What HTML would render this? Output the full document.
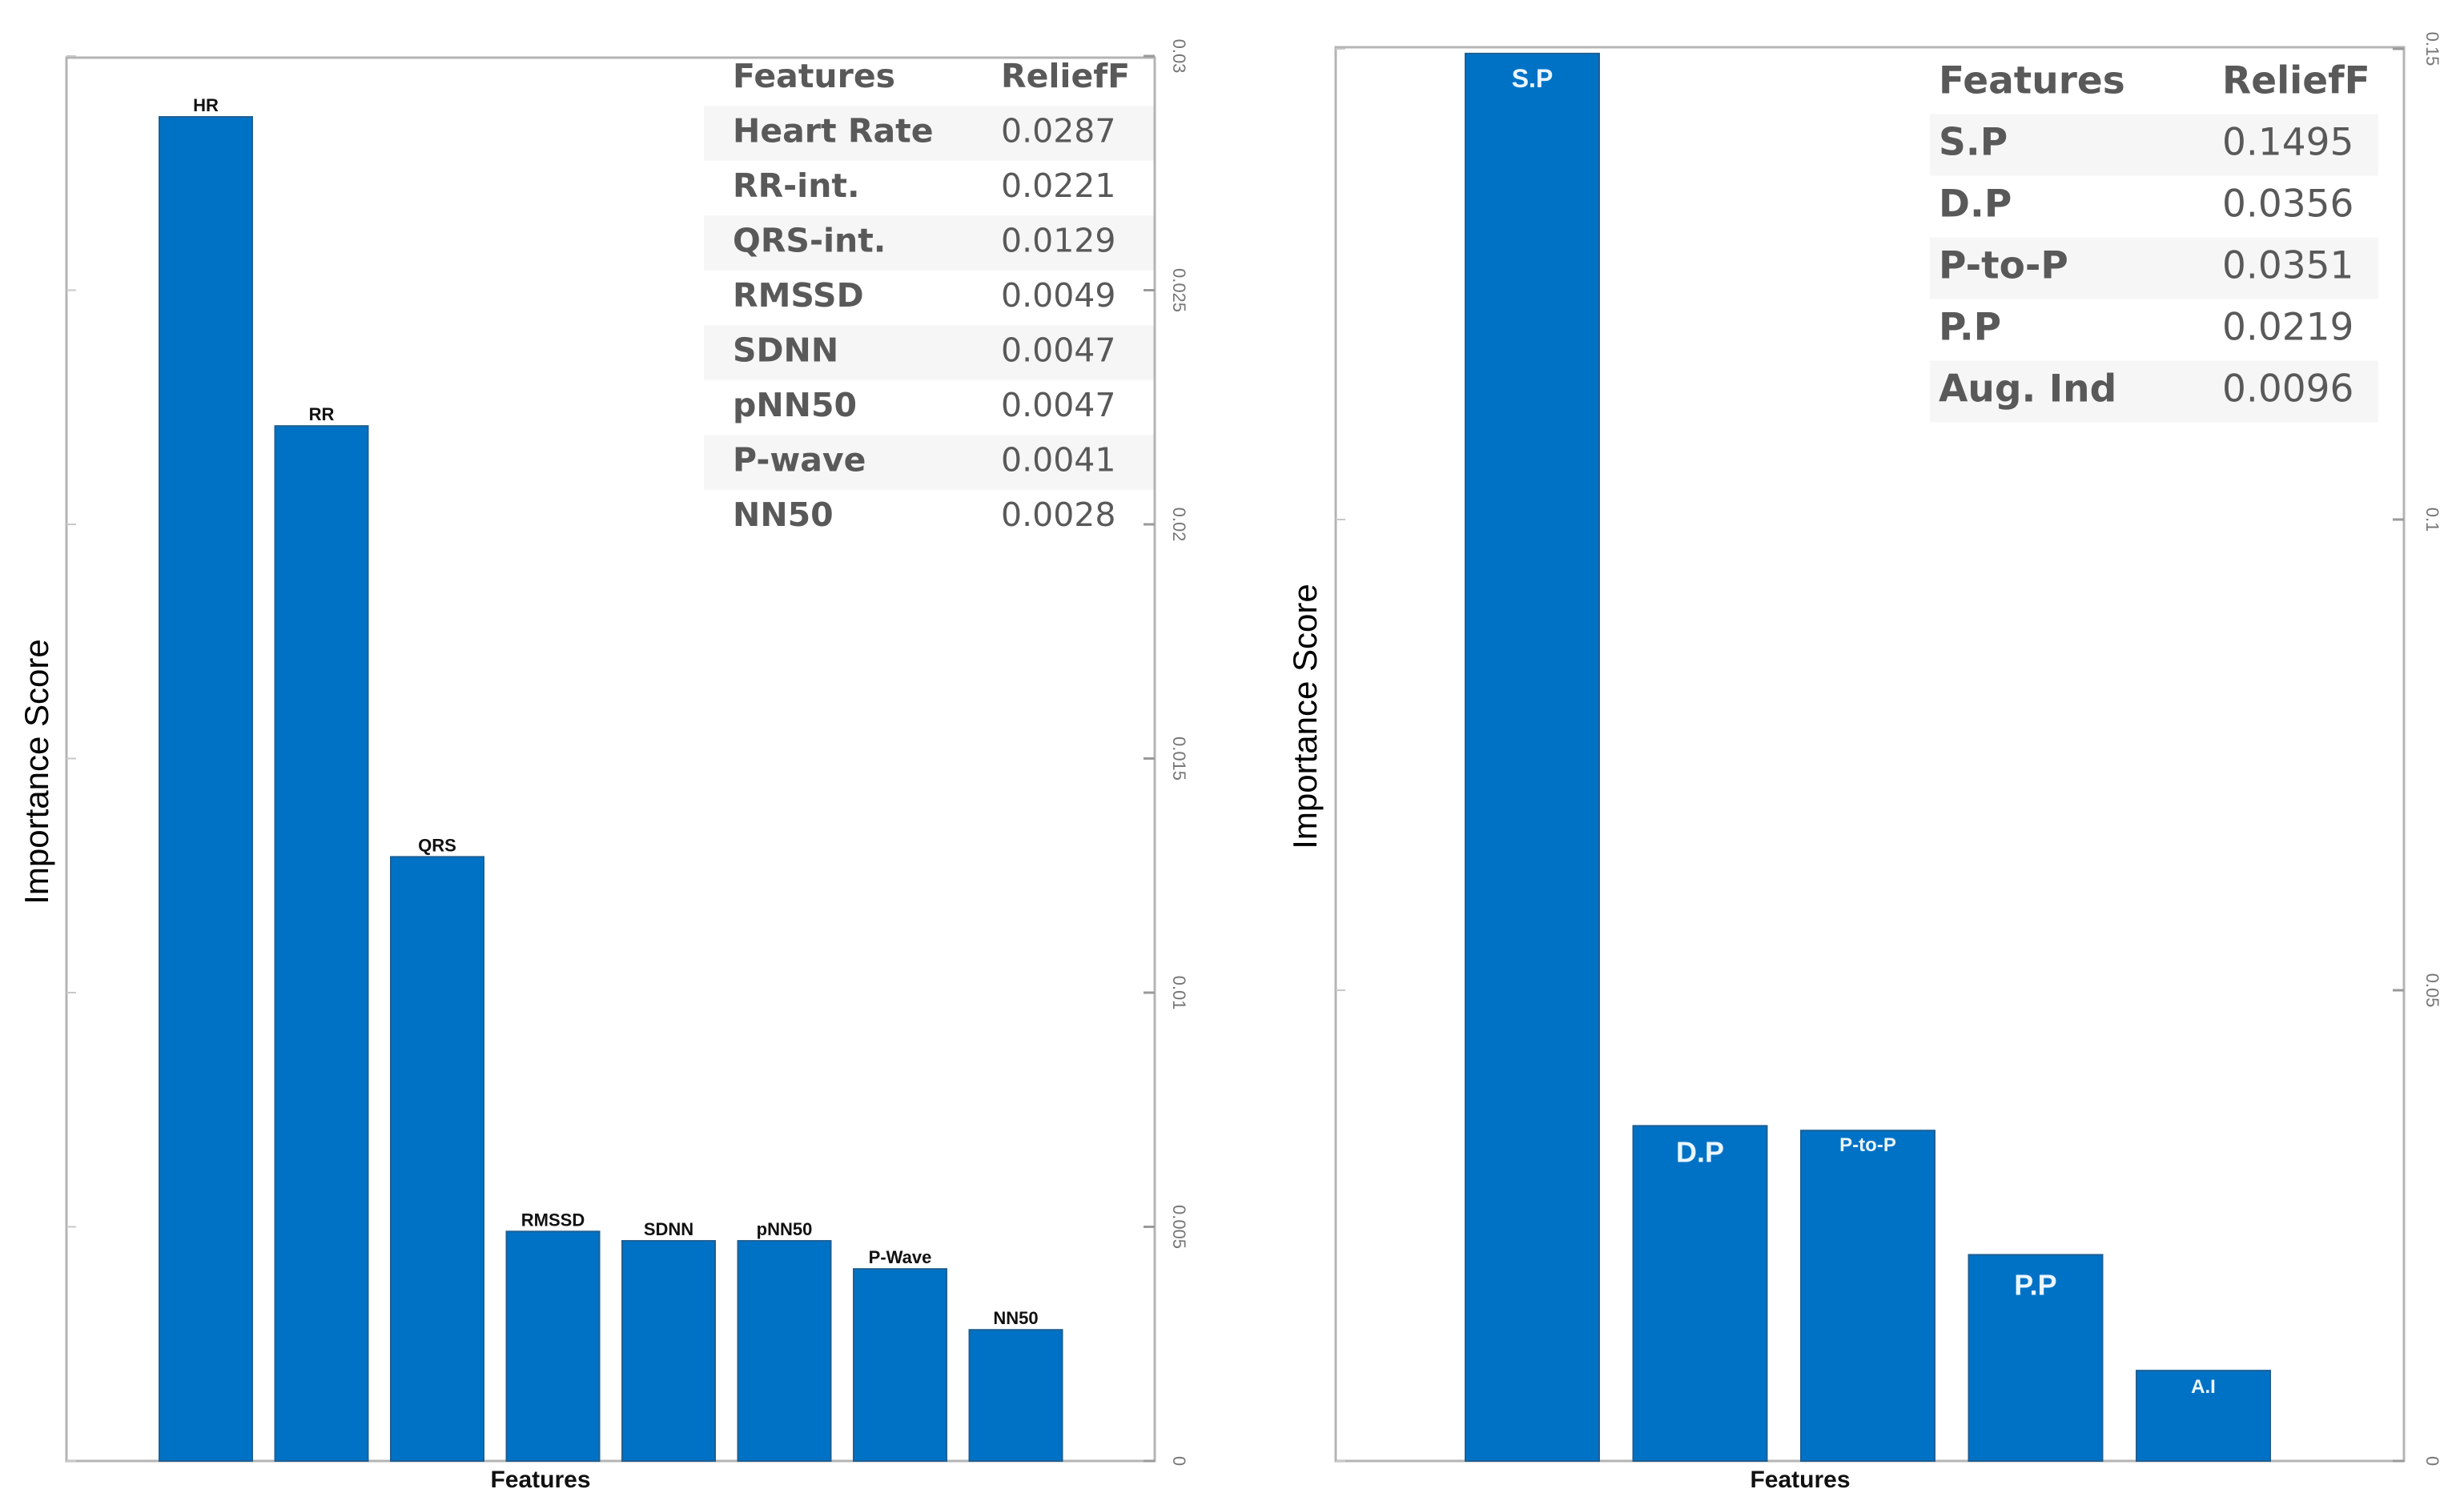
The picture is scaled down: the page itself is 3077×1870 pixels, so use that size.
<!DOCTYPE html>
<html><head><meta charset="utf-8">
<style>
html,body{margin:0;padding:0;background:#fff;width:3077px;height:1870px;overflow:hidden}
svg{display:block}
text{font-family:"Liberation Sans",sans-serif}
.tbl{font-family:"DejaVu Sans","Liberation Sans",sans-serif;fill:#595959;font-weight:bold}
</style></head>
<body>
<svg id="chart" width="3077" height="1870" viewBox="0 0 3077 1870" xmlns="http://www.w3.org/2000/svg"></svg>
<script>
// Left chart data
const leftCategories = ["HR","RR","QRS","RMSSD","SDNN","pNN50","P-Wave","NN50"];
const leftValues = [0.0287,0.0221,0.0129,0.0049,0.0047,0.0047,0.0041,0.0028];
const leftTicks = [0,0.005,0.01,0.015,0.02,0.025,0.03];
const leftTickLabels = ["0","0.005","0.01","0.015","0.02","0.025","0.03"];
const leftTableNames = ["Heart Rate","RR-int.","QRS-int.","RMSSD","SDNN","pNN50","P-wave","NN50"];
const leftTableValues = ["0.0287","0.0221","0.0129","0.0049","0.0047","0.0047","0.0041","0.0028"];
// Right chart data
const rightCategories = ["S.P","D.P","P-to-P","P.P","A.I"];
const rightValues = [0.1495,0.0356,0.0351,0.0219,0.0096];
const rightTicks = [0,0.05,0.1,0.15];
const rightTickLabels = ["0","0.05","0.1","0.15"];
const rightTableNames = ["S.P","D.P","P-to-P","P.P","Aug. Ind"];
const rightTableValues = ["0.1495","0.0356","0.0351","0.0219","0.0096"];

const NS="http://www.w3.org/2000/svg";
const svg=document.getElementById('chart');
function mk(tag,attrs,parent,txt){const e=document.createElementNS(NS,tag);for(const k in attrs)e.setAttribute(k,attrs[k]);if(txt!==undefined)e.textContent=txt;(parent||svg).appendChild(e);return e;}

function drawChart(o){
  const g=mk('g',{});
  
  
  const y=v=>o.bottom-(v/o.max)*(o.bottom-o.yTop);
  for(let i=0;i<=o.tNames.length;i++){
    if(i%2===1){const r=mk('rect',{x:o.tx0,y:o.ty0+i*o.tStep-o.tStep/2,width:o.tx1-o.tx0,height:o.tStep,fill:'#f6f6f6'},g);
      }
  }
  const box=mk('path',{d:`M${o.left},${o.top} L${o.left},${o.bottom} L${o.right},${o.bottom} L${o.right},${o.top} Z`,fill:'none',stroke:'#b4b4b4','stroke-width':3},g);
  
  o.ticks.forEach((t,i)=>{
    const ty=y(t);
    const tk=mk('line',{x1:o.right-14,x2:o.right,y1:ty,y2:ty,stroke:'#9a9a9a','stroke-width':3},g);
    
    const lt=mk('line',{x1:o.left,x2:o.left+12,y1:ty,y2:ty,stroke:'#c8c8c8','stroke-width':2},g);
    
    const tl=mk('text',{x:0,y:0,transform:`translate(${o.tickX},${ty}) rotate(90)`,'text-anchor':'middle','font-size':22,fill:'#777'},g,o.tickLabels[i]);
    
  });
  o.cats.forEach((c,i)=>{
    const x=o.barX0+i*o.pitch, top=y(o.vals[i]);
    const b=mk('rect',{x:x,y:top,width:o.barW,height:o.bottom-top,fill:'#0072c6',stroke:'#1e5f93','stroke-width':2},g);
    
    
    const lbl=o.inside?
      mk('text',{x:x+o.barW/2,y:top+o.insideOff[i],'text-anchor':'middle','font-size':o.lblSize[i],'font-weight':'bold',fill:'#eaf6ff'},g,c):
      mk('text',{x:x+o.barW/2,y:top-7,'text-anchor':'middle','font-size':22,'font-weight':'bold',fill:'#111'},g,c);
    
  });
  const th1=mk('text',{x:o.tcol1,y:o.ty0,'dominant-baseline':'middle','font-size':o.tSize,class:'tbl'},g,'Features');
  
  const th2=mk('text',{x:o.tcol2,y:o.ty0,'dominant-baseline':'middle','font-size':o.tSize,class:'tbl'},g,'ReliefF');
  
  o.tNames.forEach((n,i)=>{
    const ry=o.ty0+(i+1)*o.tStep;
    const a=mk('text',{x:o.tcol1,y:ry,'dominant-baseline':'middle','font-size':o.tSize,class:'tbl'},g,n);
    
    const b=mk('text',{x:o.tcol2,y:ry,'dominant-baseline':'middle','font-size':o.tSize,class:'tbl',style:'font-weight:normal'},g,o.tVals[i]);
    
  });
  const yt=mk('text',{x:0,y:0,transform:`translate(${o.yTitleX},${o.yTitleY}) rotate(-90)`,'text-anchor':'middle','dominant-baseline':'middle','font-size':42,fill:'#000'},g,'Importance Score');
  
  const xt=mk('text',{x:o.xTitleX,y:1858,'text-anchor':'middle','font-size':30,'font-weight':'bold',fill:'#111'},g,'Features');
  
}

drawChart({name:'left-chart',left:83,right:1442,top:72,bottom:1825,yTop:70,max:0.03,
  ticks:leftTicks,tickLabels:leftTickLabels,tickX:1465,cats:leftCategories,vals:leftValues,
  barX0:199,pitch:144.5,barW:116,inside:false,
  tNames:leftTableNames,tVals:leftTableValues,tx0:879,tx1:1442,ty0:98,tStep:68.5,tSize:41,tcol1:915,tcol2:1250,
  yTitleX:49,yTitleY:964,xTitleX:675});
drawChart({name:'right-chart',left:1668,right:3002,top:59,bottom:1825,yTop:61,max:0.15,
  ticks:rightTicks,tickLabels:rightTickLabels,tickX:3030,cats:rightCategories,vals:rightValues,
  barX0:1830,pitch:209.5,barW:167,inside:true,insideOff:[42,45,26,50,28],lblSize:[32,36,24,36,24],
  tNames:rightTableNames,tVals:rightTableValues,tx0:2410,tx1:2970,ty0:104,tStep:77,tSize:47,tcol1:2421,tcol2:2775,
  yTitleX:1633,yTitleY:895,xTitleX:2248});
</script>
</body></html>
